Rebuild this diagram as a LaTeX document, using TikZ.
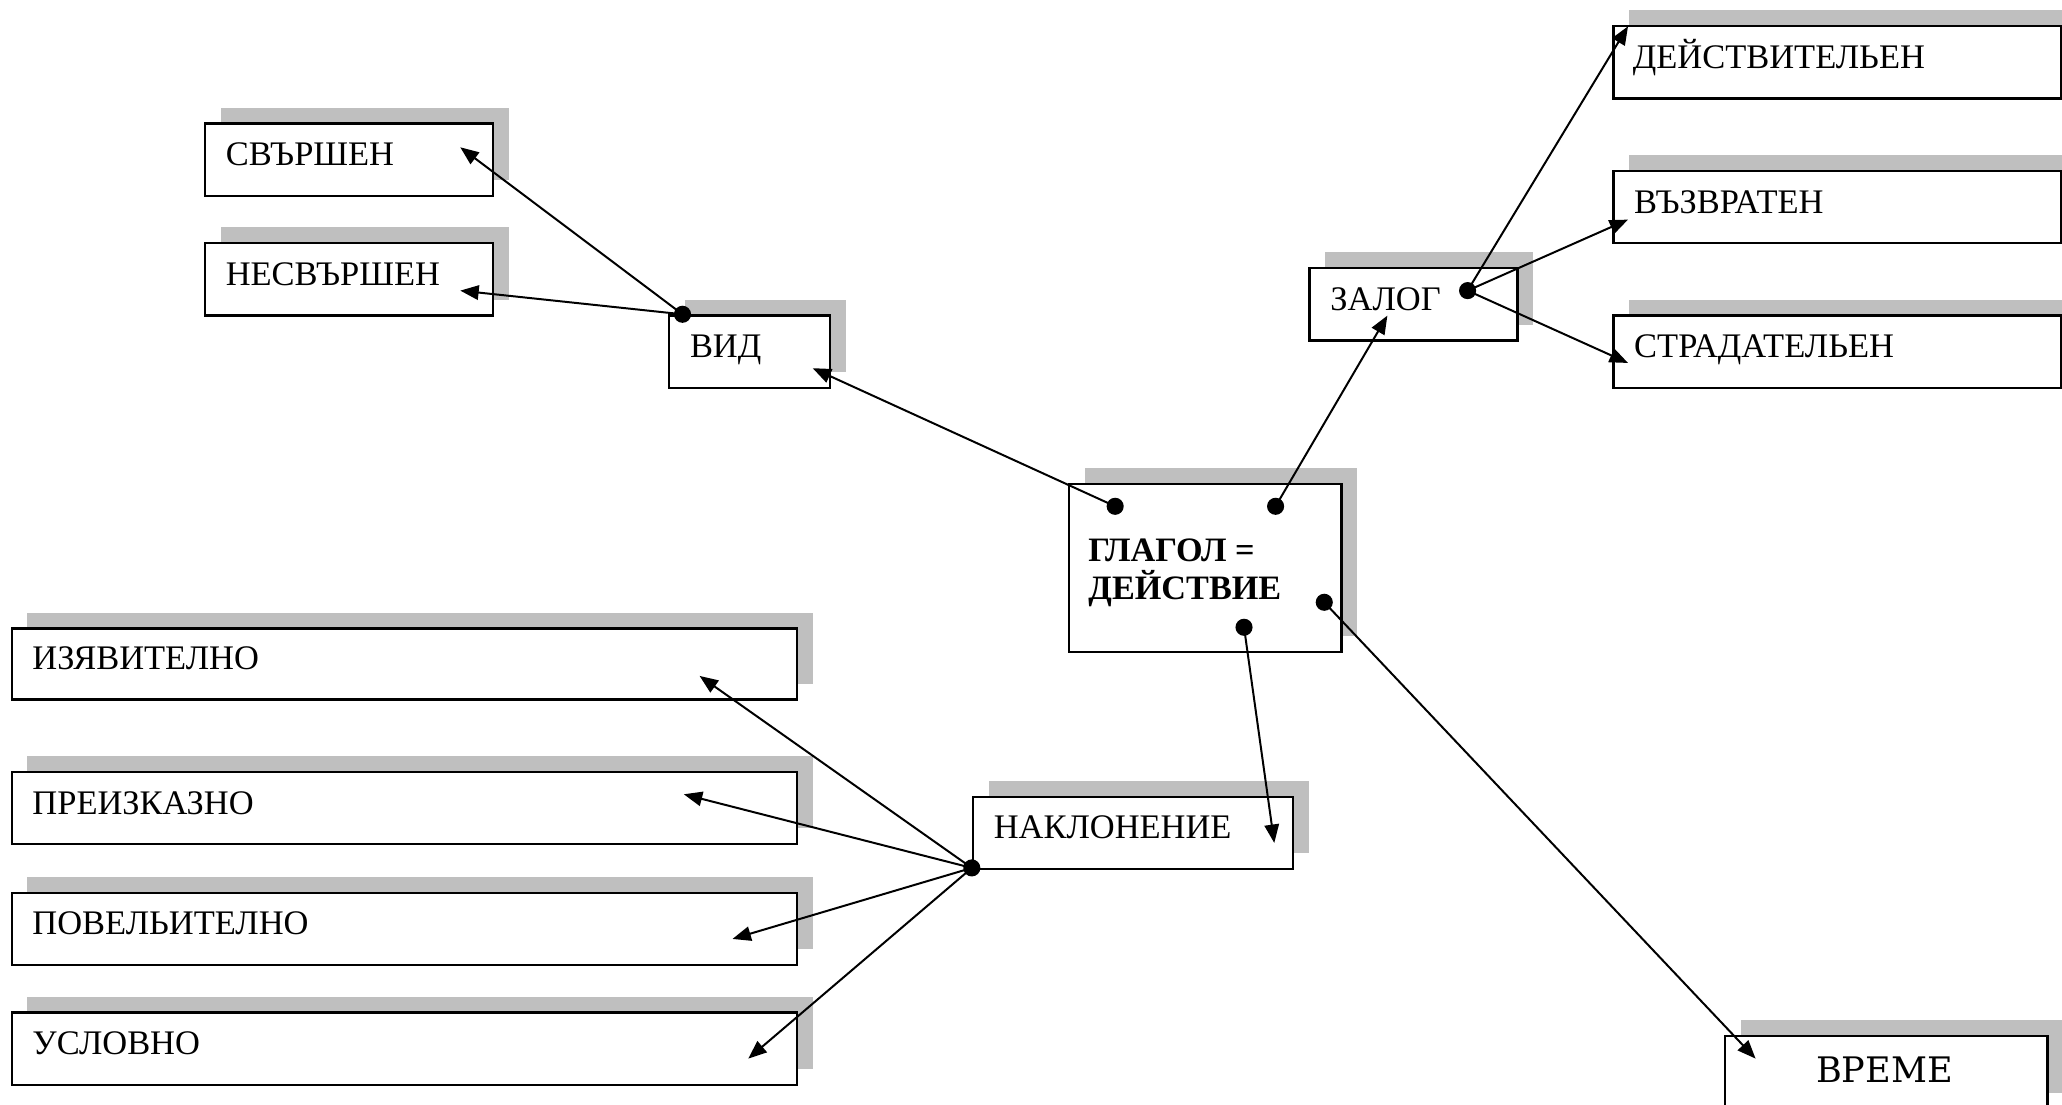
\documentclass[tikz,border=0pt]{standalone}
\usepackage{fontspec}
\setmainfont{Liberation Serif}
\newfontfamily\vremefont{DejaVu Serif}
\usetikzlibrary{arrows.meta,shadows}
\begin{document}
\begin{tikzpicture}[x=0.01cm,y=-0.01cm,
  box/.style={draw=black, line width=0.5pt, fill=white, rectangle, anchor=north west, inner sep=0pt,
    drop shadow={shadow xshift=0.12cm, shadow yshift=0.12cm, fill=black!25, opacity=1}},
  lbl/.style={anchor=base west, inner sep=0pt, font=\fontsize{7.45}{8.2}\selectfont},
  boldlbl/.style={anchor=base west, inner sep=0pt, font=\fontsize{7.4}{8.2}\selectfont\bfseries},
  dot/.style={circle, fill=black, inner sep=0pt, minimum size=0.13cm},
  conn/.style={line width=0.43pt, -{Triangle[length=0.14cm,width=0.11cm]}}]
\clip (0,0) rectangle (1568,840);
\fill[white] (0,0) rectangle (1568,840);
% boxes
\node[box, minimum width=2.19cm, minimum height=0.55cm] (svr) at (155,93) {};
\node[box, minimum width=2.19cm, minimum height=0.55cm] (nesvr) at (155,184) {};
\node[box, minimum width=1.22cm, minimum height=0.55cm] (vid) at (508,239) {};
\node[box, minimum width=1.58cm, minimum height=0.55cm] (zalog) at (995,203) {};
\node[box, minimum width=3.40cm, minimum height=0.55cm] (deistv) at (1226,19) {};
\node[box, minimum width=3.40cm, minimum height=0.55cm] (vazvr) at (1226,129) {};
\node[box, minimum width=3.40cm, minimum height=0.55cm] (strad) at (1226,239) {};
\node[box, minimum width=2.07cm, minimum height=1.28cm] (glagol) at (812,367) {};
\node[box, minimum width=5.97cm, minimum height=0.54cm] (izyav) at (8,477) {};
\node[box, minimum width=5.97cm, minimum height=0.55cm] (preizk) at (8,586) {};
\node[box, minimum width=5.97cm, minimum height=0.55cm] (povel) at (8,678) {};
\node[box, minimum width=5.97cm, minimum height=0.55cm] (uslov) at (8,769) {};
\node[box, minimum width=2.43cm, minimum height=0.55cm] (nakl) at (739,605) {};
\node[box, minimum width=2.45cm, minimum height=0.55cm] (vreme) at (1311,787) {};
% texts
\node[lbl] (svrT) at (171,126) {СВЪРШЕН};
\node[lbl] (nesvrT) at (171,217) {НЕСВЪРШЕН};
\node[lbl] (vidT) at (524,272) {ВИД};
\node[lbl] (zalogT) at (1011,236) {ЗАЛОГ};
\node[lbl] (deistvT) at (1241,52) {ДЕЙСТВИТЕЛЬЕН};
\node[lbl] (vazvrT) at (1242,162) {ВЪЗВРАТЕН};
\node[lbl] (stradT) at (1242,272) {СТРАДАТЕЛЬЕН};
\node[lbl] (izyavT) at (24,509) {ИЗЯВИТЕЛНО};
\node[lbl] (preizkT) at (24,619) {ПРЕИЗКАЗНО};
\node[lbl] (povelT) at (24,711) {ПОВЕЛЬИТЕЛНО};
\node[lbl] (uslovT) at (24,802) {УСЛОВНО};
\node[lbl] (naklT) at (755,638) {НАКЛОНЕНИЕ};
\node[anchor=base, inner sep=0pt, font=\vremefont\fontsize{7.6}{8.2}\selectfont] (vremeT) at (1433,823) {ВРЕМЕ};
\node[boldlbl] (glagolT1) at (827,427) {ГЛАГОЛ =};
\node[boldlbl] (glagolT2) at (827,456) {ДЕЙСТВИЕ};
% dots
\node[dot] (vidD) at (519,239) {};
\node[dot] (gD1) at (848,385) {};
\node[dot] (gD2) at (970,385) {};
\node[dot] (gD3) at (946,477) {};
\node[dot] (gD4) at (1007,458) {};
\node[dot] (zalogD) at (1116,221) {};
\node[dot] (naklD) at (739,660) {};
% arrow tips
\coordinate (svrP) at (350,112);
\coordinate (nesvrP) at (350,221);
\coordinate (vidP) at (618,280);
\coordinate (zalogP) at (1055,240);
\coordinate (deistvP) at (1238,20);
\coordinate (vazvrP) at (1238,167);
\coordinate (stradP) at (1238,276);
\coordinate (naklP) at (969,641);
\coordinate (vremeP) at (1335,805);
\coordinate (izyavP) at (532,514);
\coordinate (preizkP) at (520,604);
\coordinate (povelP) at (557,714);
\coordinate (uslovP) at (569,805);
% connectors
\draw[conn] (vidD.center) -- (svrP);
\draw[conn] (vidD.center) -- (nesvrP);
\draw[conn] (gD1.center) -- (vidP);
\draw[conn] (gD2.center) -- (zalogP);
\draw[conn] (zalogD.center) -- (deistvP);
\draw[conn] (zalogD.center) -- (vazvrP);
\draw[conn] (zalogD.center) -- (stradP);
\draw[conn] (gD3.center) -- (naklP);
\draw[conn] (gD4.center) -- (vremeP);
\draw[conn] (naklD.center) -- (izyavP);
\draw[conn] (naklD.center) -- (preizkP);
\draw[conn] (naklD.center) -- (povelP);
\draw[conn] (naklD.center) -- (uslovP);
\end{tikzpicture}
\end{document}
